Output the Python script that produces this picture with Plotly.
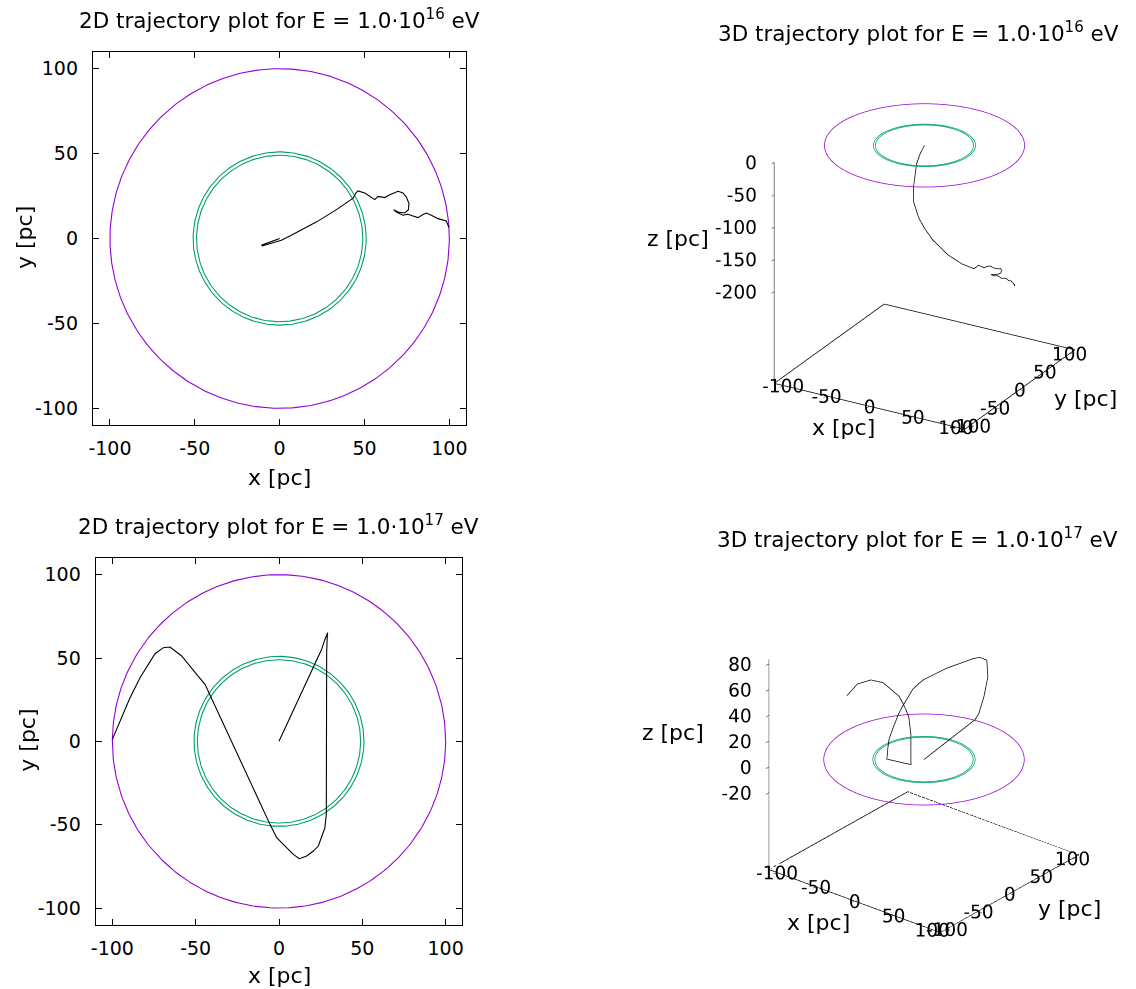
import numpy as np
import plotly.graph_objects as go

W, H = 1136, 989

# Trajectory for E = 1e16 eV, coordinates in pc
x16 = [0, -4, -7.5, -10.5, -10.2, -5, 1, 8, 21.8, 33.5, 43.3, 44.9, 46.2, 50.2, 54.1, 56.1, 58,
       61.9, 64.9, 69.8, 72.7, 74.7, 76.2, 75.9, 73.7, 69.8, 67.2, 68.8, 72.7, 75.6, 78.6, 81.5,
       84.5, 86.5, 89.4, 93.3, 98.2, 99.8]
y16 = [0, -1.5, -2.8, -3.9, -4.4, -3.0, -1.0, 2.5, 9.8, 17, 23.8, 26.8, 28, 26.8, 24.4, 22.9, 24.8,
       24.1, 25.8, 27.8, 26.8, 24.4, 20.6, 17, 15, 15.6, 17, 15.6, 13.7, 14.3, 13.3, 12.3,
       14.1, 15, 13.7, 11.7, 10.3, 6.5]
z16 = [0, -13, -29, -66, -87, -112, -128, -145, -168, -182, -190, -188, -186, -186, -185, -184, -182,
       -180, -183, -184, -182, -183, -184, -184, -184, -186, -187, -187, -186, -185, -185, -186,
       -186, -187, -188, -186, -190, -189]

# Trajectory for E = 1e17 eV, coordinates in pc
x17 = [0, 11.3, 23.8, 25.6, 27.5, 29.2, 29.0, 28.6, 28.6, 28.5, 28.4, 28.4, 27.5, 26.6, 23.6, 20.6,
       16.6, 12.2, 8.6, 2.6, -1.4, -5.4, -44.4, -49.4, -58.4, -65.4, -69.4, -74.4, -83.4, -89.4,
       -95.4, -100]
y17 = [0, 24.3, 51.3, 55.2, 61, 65.2, 63.7, 53.3, 42.2, 0, -35.8, -43.8, -52, -54.8, -62.8, -65.8,
       -68.8, -70.4, -67.8, -61.8, -57.8, -49.8, 34.2, 40.2, 51.2, 56.6, 56.2, 52.6, 38.2, 26.2,
       12.2, 1.2]
z17 = [0, 10.5, 22, 26, 38, 53, 66, 71, 73, 77, 78, 77, 74.7, 72, 64, 58,
       48, 38, 30, 19, 16, 12.5, -23.2, -22, -7, 3, 9, 18, 30.6, 34.7,
       34, 27]

# Reference rings in the galactic plane (pc)
ring_radii = [100, 51, 49]
ring_colors = ["#9400d3", "#009e73", "#009e73"]

xy_range = [-110, 110]
xy_ticks = [-100, -50, 0, 50, 100]
z16_range = [-342, 0]
z16_ticks = [0, -50, -100, -150, -200]
z17_range = [-79.6, 83.5]
z17_ticks = [-20, 0, 20, 40, 60, 80]

FONT = "DejaVu Sans"
TICK_SIZE = 19
TEXT3D_SIZE = 18.5
LABEL_SIZE = 22
TITLE_SIZE = 21.5


def labels(vals):
    # plain hyphen-minus, as gnuplot prints it
    return [str(v) for v in vals]


fig = go.Figure()
phi = np.linspace(0, 2 * np.pi, 361)


def px_dom(a, b, total):
    return [max(a / total, 0), min(b / total, 1)]


def py_dom(top, bottom):
    return [1 - bottom / H, 1 - top / H]


# ---- 2D panels ----
panels2d = [
    dict(xa="x", ya="y", xs=x16, ys=y16, xdom=(93, 466.3), ydom=(51.7, 425.3)),
    dict(xa="x2", ya="y2", xs=x17, ys=y17, xdom=(95.7, 462.3), ydom=(558, 924.7)),
]
for p in panels2d:
    for r, c in zip(ring_radii, ring_colors):
        fig.add_trace(go.Scatter(x=r * np.cos(phi), y=r * np.sin(phi), mode="lines",
                                 line=dict(color=c, width=1.1), xaxis=p["xa"], yaxis=p["ya"],
                                 hoverinfo="skip", showlegend=False))
    fig.add_trace(go.Scatter(x=p["xs"], y=p["ys"], mode="lines", line=dict(color="black", width=1.1),
                             xaxis=p["xa"], yaxis=p["ya"], hoverinfo="skip", showlegend=False))

axis2d = dict(range=xy_range, tickvals=xy_ticks, ticktext=labels(xy_ticks), ticks="inside",
              ticklen=6, tickcolor="black", showline=True, linecolor="black", linewidth=1.3,
              mirror="allticks", showgrid=False, zeroline=False, automargin=False,
              tickfont=dict(family=FONT, size=TICK_SIZE, color="black"))

layout = dict(width=W, height=H, margin=dict(l=0, r=0, t=0, b=0, autoexpand=False),
              plot_bgcolor="white", paper_bgcolor="white", showlegend=False, hovermode=False)
for i, p in enumerate(panels2d):
    sfx = "" if i == 0 else str(i + 1)
    layout["xaxis" + sfx] = dict(axis2d, domain=px_dom(*p["xdom"], W), anchor="y" + sfx,
                                 ticklabelstandoff=6)
    layout["yaxis" + sfx] = dict(axis2d, domain=py_dom(*p["ydom"]), anchor="x" + sfx,
                                 ticklabelstandoff=10)

# ---- 3D panels ----
panels3d = [
    dict(scene="scene", xs=x16, ys=y16, zs=z16, zr=z16_range, zt=z16_ticks,
         center=(924.5, 255.5), height=418, az=-60, el=24.6, asp=(1.053, 1.164)),
    dict(scene="scene2", xs=x17, ys=y17, zs=z17, zr=z17_range, zt=z17_ticks,
         center=(924, 756.5), height=418, az=-51, el=27, asp=(1.055, 1.129)),
]
lo, hi = xy_range
for p in panels3d:
    sc = p["scene"]
    zbase = p["zr"][0]
    for r, c in zip(ring_radii, ring_colors):
        fig.add_trace(go.Scatter3d(x=r * np.cos(phi), y=r * np.sin(phi), z=np.zeros_like(phi),
                                   mode="lines", line=dict(color=c, width=1.5), scene=sc,
                                   hoverinfo="skip", showlegend=False))
    fig.add_trace(go.Scatter3d(x=p["xs"], y=p["ys"], z=p["zs"], mode="lines",
                               line=dict(color="black", width=1.5), scene=sc,
                               hoverinfo="skip", showlegend=False))
    # base frame of the box at the bottom of the z range
    fig.add_trace(go.Scatter3d(x=[lo, hi, hi, lo, lo], y=[lo, lo, hi, hi, lo], z=[zbase] * 5,
                               mode="lines", line=dict(color="black", width=1.5), scene=sc,
                               hoverinfo="skip", showlegend=False))
    # tick labels, gnuplot style: x along the front edge, y along the right edge,
    # z right-aligned beside the left vertical edge
    tfont = dict(family=FONT, size=TEXT3D_SIZE, color="black")
    fig.add_trace(go.Scatter3d(x=xy_ticks, y=[lo] * len(xy_ticks), z=[zbase] * len(xy_ticks),
                               mode="text", text=labels(xy_ticks), textposition="middle center",
                               textfont=tfont, scene=sc, hoverinfo="skip", showlegend=False))
    fig.add_trace(go.Scatter3d(x=[hi] * len(xy_ticks), y=xy_ticks, z=[zbase] * len(xy_ticks),
                               mode="text", text=labels(xy_ticks), textposition="middle center",
                               textfont=tfont, scene=sc, hoverinfo="skip", showlegend=False))
    fig.add_trace(go.Scatter3d(x=[lo] * len(p["zt"]), y=[lo] * len(p["zt"]), z=p["zt"],
                               mode="text", text=labels(p["zt"]), textposition="middle left",
                               textfont=tfont, scene=sc, hoverinfo="skip", showlegend=False))

    ax3 = dict(showgrid=False, zeroline=False, showbackground=False, showspikes=False,
               showline=True, linecolor="black", linewidth=1, ticks="inside", ticklen=5,
               tickcolor="black", title=dict(text=""), showticklabels=False)
    a, e = np.radians(p["az"]), np.radians(p["el"])
    cx, cy = p["center"]
    half_w = W - cx  # widest viewport that keeps the box centred in it
    half_h = p["height"] / 2
    layout[sc] = dict(
        domain=dict(x=px_dom(cx - half_w, cx + half_w, W), y=py_dom(cy - half_h, cy + half_h)),
        xaxis=dict(ax3, range=xy_range, tickvals=xy_ticks),
        yaxis=dict(ax3, range=xy_range, tickvals=xy_ticks),
        zaxis=dict(ax3, range=p["zr"], tickvals=p["zt"]),
        aspectmode="manual", aspectratio=dict(x=p["asp"][0], y=p["asp"][0], z=p["asp"][1]),
        camera=dict(eye=dict(x=2 * np.cos(e) * np.cos(a), y=2 * np.cos(e) * np.sin(a),
                             z=2 * np.sin(e)),
                    up=dict(x=0, y=0, z=1), center=dict(x=0, y=0, z=0),
                    projection=dict(type="orthographic")),
        bgcolor="white",
    )


def ann(text, x, y, size=LABEL_SIZE, angle=0):
    return dict(text=text, x=x / W, y=1 - y / H, xref="paper", yref="paper", showarrow=False,
                xanchor="center", yanchor="middle", textangle=angle,
                font=dict(family=FONT, size=size, color="black"))


layout["annotations"] = [
    ann("2D trajectory plot for E = 1.0·10<sup>16</sup> eV", 279, 19, TITLE_SIZE),
    ann("x [pc]", 279.7, 478),
    ann("y [pc]", 24, 238, angle=-90),
    ann("2D trajectory plot for E = 1.0·10<sup>17</sup> eV", 278, 525, TITLE_SIZE),
    ann("x [pc]", 279, 975),
    ann("y [pc]", 26.7, 740, angle=-90),
    ann("3D trajectory plot for E = 1.0·10<sup>16</sup> eV", 918, 32, TITLE_SIZE),
    ann("z [pc]", 678, 239),
    ann("x [pc]", 843, 427),
    ann("y [pc]", 1085, 398),
    ann("3D trajectory plot for E = 1.0·10<sup>17</sup> eV", 917.5, 538, TITLE_SIZE),
    ann("z [pc]", 673, 732),
    ann("x [pc]", 818, 922),
    ann("y [pc]", 1069, 908),
]

fig.update_layout(**layout)
fig.write_html("out.html", config={"displayModeBar": False})
